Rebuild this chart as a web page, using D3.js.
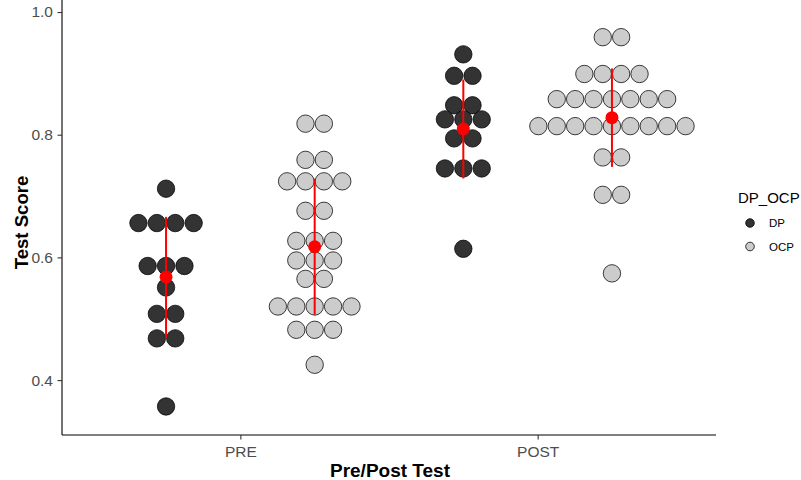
<!DOCTYPE html>
<html>
<head>
<meta charset="utf-8">
<script src="https://cdn.jsdelivr.net/npm/d3@7"></script>
<style>
  html, body { margin: 0; padding: 0; background: #fff; }
  svg { display: block; font-family: "Liberation Sans", Arial, sans-serif; }
</style>
</head>
<body>
<svg id="chart" width="801" height="480"></svg>
<script>
// ---- data ----
const tests = ["PRE", "POST"];
const conditions = ["DP", "OCP"];
const yTicks = [0.4, 0.6, 0.8, 1.0];

const preDP = [0.712, 0.656, 0.656, 0.656, 0.656, 0.586, 0.586, 0.586, 0.551,
  0.508, 0.508, 0.468, 0.468, 0.357];
const preOCP = [0.818, 0.818, 0.759, 0.759, 0.724, 0.724, 0.724, 0.724, 0.676, 0.676,
  0.627, 0.627, 0.627, 0.595, 0.595, 0.595, 0.565, 0.565,
  0.520, 0.520, 0.520, 0.520, 0.520, 0.482, 0.482, 0.482, 0.425];
const postDP = [0.931, 0.896, 0.896, 0.848, 0.848, 0.825, 0.825, 0.825, 0.794, 0.794,
  0.745, 0.745, 0.745, 0.614];
const postOCP = [0.959, 0.959, 0.899, 0.899, 0.899, 0.899,
  0.858, 0.858, 0.858, 0.858, 0.858, 0.858, 0.858,
  0.814, 0.814, 0.814, 0.814, 0.814, 0.814, 0.814, 0.814, 0.814,
  0.763, 0.763, 0.702, 0.702, 0.574];

const series = [
  { test: "PRE", cond: "DP", values: preDP },
  { test: "PRE", cond: "OCP", values: preOCP },
  { test: "POST", cond: "DP", values: postDP },
  { test: "POST", cond: "OCP", values: postOCP }
];

// ---- layout ----
const svg = d3.select("#chart");
const mLeft = 62, mRight = 716, mTop = 0, mBottom = 435;
const fillColor = d3.scaleOrdinal().domain(conditions).range(["#333333", "#cccccc"]);

const x = d3.scalePoint().domain(tests).range([mLeft, mRight]).padding(0.6);
const step = x.step();
const dodge = d3.scalePoint().domain(conditions).range([-step / 4, step / 4]);
const y = d3.scaleLinear().domain([0.3105, 1.0196]).range([mBottom, mTop]);

const dotR = 8.7, dotGap = 18.4;

// ---- axes ----
const yAxis = svg.append("g")
  .attr("transform", `translate(${mLeft},0)`)
  .call(d3.axisLeft(y).tickValues(yTicks).tickFormat(d3.format(".1f")).tickSize(4.5).tickPadding(4.5));
yAxis.select(".domain").attr("stroke", "#000").attr("stroke-width", 1.1)
  .attr("d", `M0,${mTop}V${mBottom}`);
yAxis.selectAll(".tick line").attr("stroke", "#333").attr("stroke-width", 1.1);
yAxis.selectAll(".tick text").attr("fill", "#4d4d4d").style("font-size", "15.5px")
  .style("font-family", "Liberation Sans, Arial, sans-serif");

const xAxis = svg.append("g")
  .attr("transform", `translate(0,${mBottom})`)
  .call(d3.axisBottom(x).tickSize(4.5).tickPadding(6));
xAxis.select(".domain").attr("stroke", "#000").attr("stroke-width", 1.1)
  .attr("d", `M${mLeft},0H${mRight}`);
xAxis.selectAll(".tick line").attr("stroke", "#333").attr("stroke-width", 1.1);
xAxis.selectAll(".tick text").attr("fill", "#4d4d4d").style("font-size", "15.5px")
  .style("font-family", "Liberation Sans, Arial, sans-serif");

// ---- dots ----
series.forEach(s => {
  const cx0 = x(s.test) + dodge(s.cond);
  const bins = d3.rollups(s.values, v => v.length, d => d);
  const pts = [];
  bins.forEach(([val, n]) => {
    for (let i = 0; i < n; i++) {
      pts.push({ cx: cx0 + (i - (n - 1) / 2) * dotGap, cy: y(val) });
    }
  });
  svg.append("g").selectAll("circle").data(pts).join("circle")
    .attr("cx", d => d.cx).attr("cy", d => d.cy).attr("r", dotR)
    .attr("fill", fillColor(s.cond))
    .attr("stroke", "#000").attr("stroke-opacity", 0.75).attr("stroke-width", 1);
});

// ---- mean +/- sd ----
series.forEach(s => {
  const cx0 = x(s.test) + dodge(s.cond);
  const m = d3.mean(s.values), sd = d3.deviation(s.values);
  const g = svg.append("g");
  g.append("line")
    .attr("x1", cx0).attr("x2", cx0)
    .attr("y1", y(m - sd)).attr("y2", y(m + sd))
    .attr("stroke", "#ff0000").attr("stroke-width", 2);
  g.append("circle").attr("cx", cx0).attr("cy", y(m)).attr("r", 6.5).attr("fill", "#ff0000");
});

// ---- titles ----
svg.append("text").attr("x", (mLeft + mRight) / 2 + 1).attr("y", 477)
  .attr("text-anchor", "middle").style("font-size", "19px").style("font-weight", "bold")
  .attr("fill", "#000").text("Pre/Post Test");
svg.append("text").attr("transform", `translate(27.5,${(mTop + mBottom) / 2 + 5}) rotate(-90)`)
  .attr("text-anchor", "middle").style("font-size", "18.6px").style("font-weight", "bold")
  .attr("fill", "#000").text("Test Score");

// ---- legend ----
const lg = svg.append("g");
lg.append("text").attr("x", 738).attr("y", 203).style("font-size", "15px")
  .attr("fill", "#000").text("DP_OCP");
conditions.forEach((c, i) => {
  const cy = 223 + i * 23.5;
  lg.append("circle").attr("cx", 750).attr("cy", cy).attr("r", 4.3)
    .attr("fill", fillColor(c)).attr("stroke", "#000").attr("stroke-width", 0.8);
  lg.append("text").attr("x", 769).attr("y", cy + 4).style("font-size", "11.5px")
    .attr("fill", "#000").text(c);
});
</script>
</body>
</html>
